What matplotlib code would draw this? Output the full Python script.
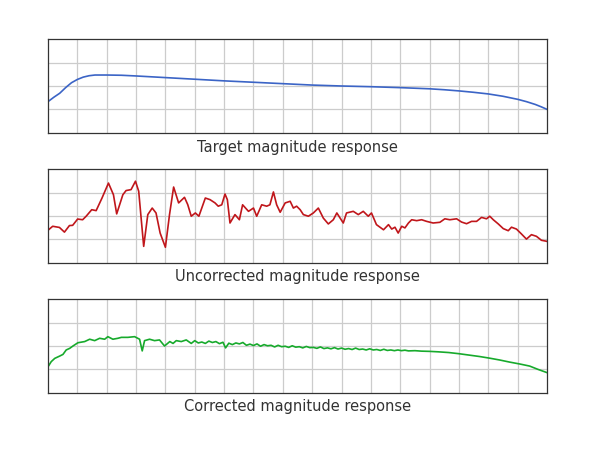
import matplotlib
matplotlib.use("Agg")
import matplotlib.pyplot as plt

# x in grid divisions (0..17), y in grid rows (0..4)
target_x = [0.0, 0.2, 0.4, 0.6, 0.8, 1.0, 1.2, 1.4, 1.6, 2.0, 2.5, 3.0, 4.0, 5.0, 6.0, 7.0,
            8.0, 9.0, 10.0, 11.0, 12.0, 13.0, 13.5, 14.0, 14.5, 15.0, 15.5, 16.0, 16.3,
            16.6, 16.8, 17.0]
target_y = [1.33, 1.52, 1.69, 1.93, 2.14, 2.28, 2.38, 2.44, 2.47, 2.47, 2.46, 2.43, 2.36,
            2.29, 2.22, 2.16, 2.10, 2.04, 2.00, 1.97, 1.93, 1.88, 1.84, 1.79, 1.73, 1.66,
            1.56, 1.43, 1.33, 1.21, 1.11, 1.00]

uncorr_x = [0.00, 0.16, 0.39, 0.56, 0.73, 0.84, 1.01, 1.18, 1.30, 1.49, 1.64, 1.84, 2.06,
            2.23, 2.34, 2.55, 2.66, 2.83, 2.98, 3.09, 3.26, 3.40, 3.55, 3.68, 3.82, 4.00,
            4.14, 4.28, 4.45, 4.65, 4.76, 4.88, 5.02, 5.14, 5.36, 5.52, 5.69, 5.80, 5.92,
            6.03, 6.11, 6.20, 6.37, 6.52, 6.63, 6.83, 7.00, 7.11, 7.28, 7.45, 7.56, 7.68,
            7.79, 7.91, 8.08, 8.25, 8.36, 8.47, 8.59, 8.70, 8.87, 9.04, 9.21, 9.38, 9.55,
            9.72, 9.84, 10.06, 10.17, 10.40, 10.57, 10.74, 10.91, 11.02, 11.19, 11.31,
            11.43, 11.60, 11.71, 11.82, 11.93, 12.05, 12.16, 12.28, 12.39, 12.56, 12.73,
            12.90, 13.12, 13.35, 13.52, 13.69, 13.92, 14.09, 14.26, 14.43, 14.60, 14.77,
            14.94, 15.05, 15.17, 15.34, 15.51, 15.68, 15.79, 15.96, 16.13, 16.30, 16.47,
            16.64, 16.81, 16.98, 17.00]
uncorr_y = [1.39, 1.56, 1.51, 1.31, 1.59, 1.60, 1.87, 1.84, 1.99, 2.27, 2.23, 2.77, 3.41,
            2.91, 2.09, 2.91, 3.09, 3.13, 3.49, 3.06, 0.70, 2.06, 2.34, 2.13, 1.27, 0.66,
            2.06, 3.24, 2.56, 2.80, 2.49, 1.99, 2.13, 1.99, 2.77, 2.70, 2.56, 2.42, 2.48,
            2.94, 2.70, 1.70, 2.06, 1.84, 2.48, 2.20, 2.34, 1.99, 2.48, 2.42, 2.48, 3.03,
            2.48, 2.16, 2.56, 2.63, 2.34, 2.42, 2.27, 2.06, 1.99, 2.13, 2.34, 1.91, 1.66,
            1.84, 2.13, 1.70, 2.13, 2.20, 2.06, 2.20, 1.99, 2.13, 1.63, 1.52,
            1.41, 1.63, 1.44, 1.52, 1.27, 1.56, 1.49, 1.70, 1.84, 1.80, 1.84,
            1.77, 1.70, 1.73, 1.88, 1.84, 1.88, 1.74, 1.67, 1.77, 1.77, 1.94,
            1.88, 1.99, 1.84, 1.66, 1.46, 1.37, 1.52, 1.44, 1.23, 1.01, 1.20,
            1.13, 0.96, 0.92, 0.91]

corr_x = [0.00, 0.11, 0.23, 0.40, 0.51, 0.62, 0.74, 0.85, 1.02, 1.25, 1.42, 1.59, 1.76,
          1.93, 2.04, 2.21, 2.38, 2.50, 2.72, 2.95, 3.12, 3.21, 3.29, 3.46, 3.63, 3.80,
          3.97, 4.15, 4.26, 4.37, 4.54, 4.71, 4.88, 5.00, 5.12, 5.24, 5.36, 5.48, 5.60,
          5.72, 5.84, 5.96, 6.05, 6.16, 6.28, 6.40, 6.52, 6.64, 6.76, 6.88, 7.00, 7.12,
          7.24, 7.36, 7.48, 7.60, 7.72, 7.84, 7.96, 8.08, 8.20, 8.32, 8.44, 8.56, 8.68,
          8.80, 8.92, 9.04, 9.16, 9.28, 9.40, 9.52, 9.64, 9.76, 9.88, 10.00, 10.12, 10.24,
          10.36, 10.48, 10.60, 10.72, 10.84, 10.96, 11.08, 11.20, 11.32, 11.44, 11.56,
          11.68, 11.80, 11.92, 12.04, 12.16, 12.28, 12.50, 12.72, 13.00, 13.30, 13.65,
          14.00, 14.35, 14.70, 15.04, 15.39, 15.73, 16.07, 16.41, 16.69, 17.00]
corr_y = [1.11, 1.33, 1.47, 1.57, 1.64, 1.83, 1.90, 2.00, 2.14, 2.19, 2.29, 2.23, 2.33,
          2.29, 2.40, 2.29, 2.33, 2.37, 2.37, 2.40, 2.29, 1.79, 2.23, 2.29, 2.23, 2.26,
          2.00, 2.19, 2.11, 2.23, 2.19, 2.26, 2.11, 2.23, 2.13, 2.17, 2.11, 2.21, 2.15,
          2.19, 2.10, 2.16, 1.92, 2.12, 2.06, 2.13, 2.09, 2.15, 2.03, 2.08, 2.02, 2.09,
          1.99, 2.06, 2.01, 2.03, 1.96, 2.03, 1.97, 1.99, 1.94, 2.01, 1.95, 1.97, 1.92,
          1.98, 1.93, 1.94, 1.90, 1.96, 1.89, 1.92, 1.88, 1.93, 1.87, 1.91, 1.86, 1.89,
          1.85, 1.91, 1.85, 1.87, 1.83, 1.88, 1.83, 1.85, 1.81, 1.86, 1.81,
          1.83, 1.80, 1.83, 1.80, 1.82, 1.79, 1.80, 1.78, 1.77, 1.75, 1.72,
          1.67, 1.61, 1.55, 1.48, 1.40, 1.31, 1.23, 1.14, 1.00, 0.86]

titles = ["Target magnitude response", "Uncorrected magnitude response",
          "Corrected magnitude response"]
colors = ["#3b64c6", "#c0161b", "#17aa2c"]

fig = plt.figure(figsize=(5.91, 4.49), dpi=100)

left = 48 / 591
width = (547 - 48) / 591
height = 93.4 / 449
tops = [39.3, 169.3, 299.3]
label_y = [148, 277, 407]
series = [(target_x, target_y), (uncorr_x, uncorr_y), (corr_x, corr_y)]

for i in range(3):
    bottom = 1 - (tops[i] + 93.4) / 449
    ax = fig.add_axes([left, bottom, width, height])
    xs, ys = series[i]
    ax.plot(xs, ys, color=colors[i], lw=1.2, solid_joinstyle="round")
    ax.set_xlim(0, 17)
    ax.set_ylim(0, 4)
    ax.set_xticks(range(1, 17))
    ax.set_yticks([1, 2, 3])
    ax.grid(True, color="#cccccc", lw=0.9)
    ax.set_axisbelow(True)
    ax.tick_params(length=0, labelbottom=False, labelleft=False)
    for s in ax.spines.values():
        s.set_color("#333333")
        s.set_linewidth(0.9)
    fig.text(297.5 / 591, 1 - label_y[i] / 449, titles[i], ha="center", va="center",
             fontsize=10.5, color="#333333")

fig.savefig("out.png", dpi=100)
